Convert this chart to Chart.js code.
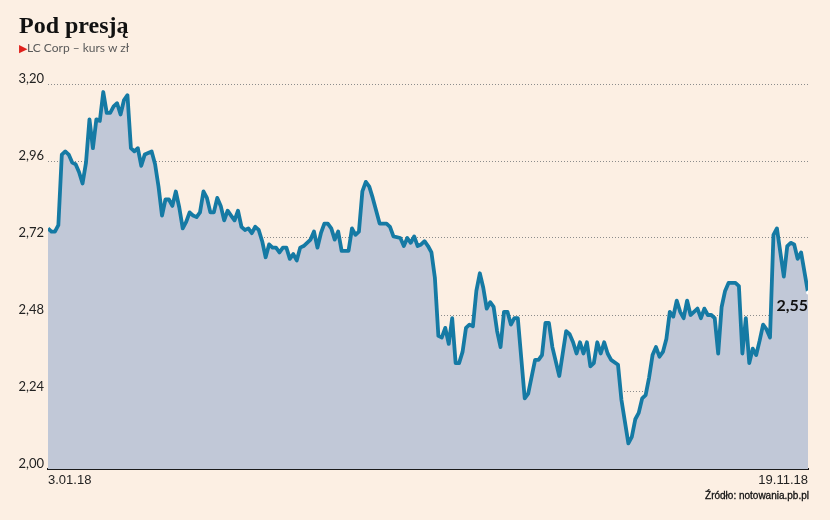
<!DOCTYPE html>
<html lang="pl">
<head>
<meta charset="utf-8">
<title>Pod presją</title>
<script src="https://cdn.jsdelivr.net/npm/chart.js@4.4.1/dist/chart.umd.min.js"></script>
<style>
  html, body { margin: 0; padding: 0; background: #fcefe3; }
  #wrap { position: relative; width: 830px; height: 520px; }
  #wykres { position: absolute; left: 0; top: 0; }
  .tytul { position: absolute; left: 19px; top: 12px; font: bold 24px "Liberation Serif", serif; color: #111; }
  .podtytul { position: absolute; left: 19px; top: 40px; font: 12px Lato, sans-serif; color: #5a5a5a; }
  .podtytul span { color: #e0201b; font-size: 11px; }
  .zrodlo { position: absolute; right: 21px; top: 490px; font: 10px "Liberation Sans Narrow", sans-serif; color: #111; -webkit-text-stroke: 0.3px #111; }
</style>
</head>
<body>
<div id="wrap">
  <canvas id="wykres" width="830" height="520"></canvas>
  <div class="tytul">Pod presją</div>
  <div class="podtytul"><span>&#9654;</span>LC Corp – kurs w zł</div>
  <div class="zrodlo">Źródło: notowania.pb.pl</div>
</div>
<script>
// numer sesji od 3.01.18 (0) do 19.11.18 (220)
const sesje = [
  0, 1, 2, 3, 4, 5, 6, 7, 8, 9,
  10, 11, 12, 13, 14, 15, 16, 17, 18, 19,
  20, 21, 22, 23, 24, 25, 26, 27, 28, 29,
  30, 31, 32, 33, 34, 35, 36, 37, 38, 39,
  40, 41, 42, 43, 44, 45, 46, 47, 48, 49,
  50, 51, 52, 53, 54, 55, 56, 57, 58, 59,
  60, 61, 62, 63, 64, 65, 66, 67, 68, 69,
  70, 71, 72, 73, 74, 76, 77, 78, 79, 80,
  81, 82, 83, 84, 85, 86, 87, 88, 89, 90,
  91, 92, 93, 94, 95, 96, 97, 98, 99, 100,
  102, 103, 104, 105, 106, 107, 108, 109, 110, 111,
  112, 113, 114, 115, 116, 117, 118, 119, 120, 121,
  122, 123, 124, 125, 126, 127, 128, 129, 130, 131,
  132, 133, 134, 135, 136, 138, 139, 141, 142, 143,
  144, 145, 146, 148, 149, 150, 151, 152, 153, 154,
  155, 156, 157, 158, 159, 160, 161, 162, 163, 165,
  166, 168, 169, 170, 171, 172, 173, 174, 175, 176,
  177, 178, 179, 180, 181, 182, 183, 184, 185, 186,
  187, 188, 189, 190, 191, 192, 193, 194, 195, 196,
  197, 198, 199, 200, 201, 202, 203, 204, 205, 206,
  207, 208, 209, 210, 211, 212, 213, 214, 215, 216,
  217, 218, 220
];

// kurs LC Corp w zł
const kurs = [
  2.75, 2.74, 2.74, 2.76, 2.98, 2.99, 2.98, 2.955, 2.95, 2.925,
  2.89, 2.955, 3.09, 3.00, 3.09, 3.085, 3.175, 3.11, 3.11, 3.13,
  3.14, 3.105, 3.15, 3.165, 3.00, 2.99, 3.00, 2.945, 2.98, 2.985,
  2.99, 2.95, 2.88, 2.79, 2.84, 2.84, 2.82, 2.865, 2.815, 2.75,
  2.77, 2.80, 2.79, 2.785, 2.80, 2.865, 2.845, 2.80, 2.80, 2.845,
  2.82, 2.775, 2.805, 2.79, 2.775, 2.805, 2.755, 2.745, 2.75, 2.735,
  2.755, 2.745, 2.71, 2.66, 2.70, 2.69, 2.69, 2.675, 2.69, 2.69,
  2.655, 2.67, 2.65, 2.69, 2.695, 2.715, 2.74, 2.69, 2.735, 2.765,
  2.765, 2.75, 2.715, 2.74, 2.68, 2.68, 2.68, 2.75, 2.73, 2.74,
  2.865, 2.895, 2.88, 2.845, 2.805, 2.765, 2.765, 2.765, 2.755, 2.725,
  2.72, 2.695, 2.72, 2.705, 2.725, 2.695, 2.70, 2.71, 2.695, 2.675,
  2.595, 2.415, 2.41, 2.44, 2.39, 2.47, 2.33, 2.33, 2.365, 2.44,
  2.45, 2.445, 2.555, 2.61, 2.565, 2.50, 2.52, 2.505, 2.43, 2.38,
  2.49, 2.49, 2.45, 2.47, 2.47, 2.22, 2.235, 2.34, 2.34, 2.355,
  2.455, 2.455, 2.38, 2.29, 2.36, 2.43, 2.42, 2.395, 2.36, 2.395,
  2.36, 2.395, 2.32, 2.33, 2.395, 2.36, 2.395, 2.36, 2.34, 2.325,
  2.215, 2.08, 2.10, 2.155, 2.175, 2.22, 2.23, 2.285, 2.355, 2.38,
  2.35, 2.365, 2.405, 2.49, 2.475, 2.525, 2.49, 2.47, 2.525, 2.48,
  2.49, 2.50, 2.47, 2.50, 2.48, 2.48, 2.47, 2.36, 2.505, 2.555,
  2.58, 2.58, 2.58, 2.57, 2.36, 2.47, 2.33, 2.375, 2.355, 2.40,
  2.45, 2.435, 2.41, 2.73, 2.75, 2.675, 2.60, 2.695, 2.705, 2.70,
  2.655, 2.675, 2.55
];

const osY = [2.00, 2.24, 2.48, 2.72, 2.96, 3.20];
const osX = [0, 220];
const etykietyX = ["3.01.18", "19.11.18"];

const fmt = v => v.toFixed(2).replace(".", ",");
const ostatni = kurs.length - 1;

// podpis ostatniego kursu przy końcu linii
const podpisKonca = {
  id: "podpisKonca",
  afterDatasetsDraw(chart) {
    const pt = chart.getDatasetMeta(0).data[ostatni];
    const ctx = chart.ctx;
    ctx.save();
    ctx.font = "bold 16px Lato, sans-serif";
    ctx.fillStyle = "#111";
    ctx.textAlign = "right";
    ctx.textBaseline = "middle";
    ctx.fillText(fmt(kurs[ostatni]), chart.chartArea.right, pt.y + 13);
    ctx.restore();
  }
};

new Chart(document.getElementById("wykres"), {
  type: "line",
  data: {
    datasets: [{
      data: sesje.map((s, i) => ({ x: s, y: kurs[i] })),
      borderColor: "#157aa4",
      borderWidth: 3.8,
      backgroundColor: "#c1c8d7",
      fill: "start",
      tension: 0,
      borderJoinStyle: "round",
      pointRadius: ctx => ctx.dataIndex === ostatni ? 2 : 0,
      pointBackgroundColor: "#ffffff",
      pointBorderWidth: 0
    }]
  },
  options: {
    responsive: false,
    animation: false,
    layout: { padding: { left: 0, right: 22, top: 84, bottom: 31 } },
    plugins: {
      legend: { display: false },
      tooltip: { enabled: false }
    },
    scales: {
      x: {
        type: "linear",
        min: 0,
        max: 220,
        afterBuildTicks: s => { s.ticks = osX.map(v => ({ value: v })); },
        afterFit: s => { s.height = 20; },
        grid: { color: "transparent", drawTicks: false },
        border: { display: true, color: "#1a1a1a", width: 2 },
        ticks: {
          align: "inner",
          padding: 4,
          maxRotation: 0,
          color: "#222",
          font: { family: "'Liberation Sans Narrow', sans-serif", size: 13 },
          callback: (v, i) => etykietyX[i]
        }
      },
      y: {
        min: 2,
        max: 3.2,
        afterBuildTicks: s => { s.ticks = osY.map(v => ({ value: v })); },
        afterFit: s => { s.width = 48; },
        grid: { color: "#8c8c8c", lineWidth: 1, drawTicks: false },
        border: { display: false, dash: [1, 2] },
        ticks: {
          padding: 4,
          labelOffset: -5,
          color: "#222",
          font: { family: "Lato, sans-serif", size: 13 },
          callback: v => fmt(v)
        }
      }
    }
  },
  plugins: [podpisKonca]
});
</script>
</body>
</html>
